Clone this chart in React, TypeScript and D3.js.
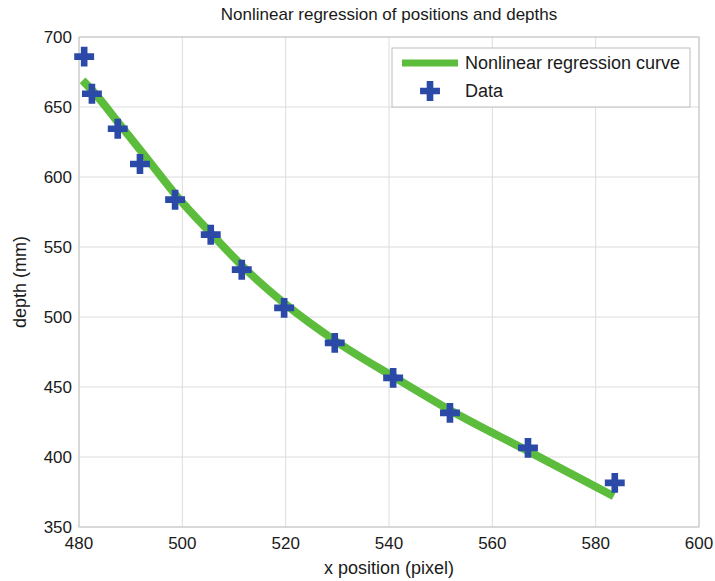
import { useRef, useEffect } from 'react';
import * as d3 from 'd3';

const WIDTH = 715;
const HEIGHT = 581;

// measured points
const dataX = [481, 482.5, 487.5, 491.8, 498.6, 505.5, 511.5, 519.7, 529.5, 540.8, 551.8, 566.9, 583.7];
const dataY = [686, 659.5, 634.5, 609.3, 583.8, 558.8, 533.8, 506.5, 481.5, 456.5, 431.5, 406.5, 381.5];

// regression curve
const curveX = [480.7, 483, 488, 493, 499, 506, 512, 520, 530, 541, 552, 567, 583.5];
const curveY = [669, 660, 637, 614, 586, 558, 535, 509, 482, 457, 433, 404, 372];

const xTicks = [480, 500, 520, 540, 560, 580, 600];
const yTicks = [350, 400, 450, 500, 550, 600, 650, 700];

const GREEN = '#5cbc3c';
const BLUE = '#2b4aa8';
const INK = '#1a1a1a';
const FONT = '"Liberation Sans", Arial, sans-serif';

const App = () => {
  const svgRef = useRef<SVGSVGElement>(null);

  useEffect(() => {
    const svg = d3.select(svgRef.current);
    svg.selectAll('*').remove();

    const margin = { top: 37, right: 16, bottom: 54, left: 79 };
    const width = WIDTH - margin.left - margin.right;
    const height = HEIGHT - margin.top - margin.bottom;

    const x = d3.scaleLinear().domain([480, 600]).range([0, width]);
    const y = d3.scaleLinear().domain([350, 700]).range([height, 0]);

    svg.append('rect').attr('width', WIDTH).attr('height', HEIGHT).attr('fill', '#fff');

    const g = svg.append('g').attr('transform', `translate(${margin.left},${margin.top})`);

    // grid
    g.append('g')
      .selectAll('line')
      .data(xTicks)
      .join('line')
      .attr('x1', d => x(d)).attr('x2', d => x(d))
      .attr('y1', 0).attr('y2', height)
      .attr('stroke', '#dcdcdc');
    g.append('g')
      .selectAll('line')
      .data(yTicks)
      .join('line')
      .attr('x1', 0).attr('x2', width)
      .attr('y1', d => y(d)).attr('y2', d => y(d))
      .attr('stroke', '#dcdcdc');

    g.append('rect')
      .attr('width', width).attr('height', height)
      .attr('fill', 'none').attr('stroke', '#c4c4c4');

    // tick labels
    g.append('g')
      .selectAll('text')
      .data(yTicks)
      .join('text')
      .attr('x', -7).attr('y', d => y(d)).attr('dy', '0.36em')
      .attr('text-anchor', 'end')
      .attr('font-family', FONT).attr('font-size', 17).attr('fill', INK)
      .text(d => d);
    g.append('g')
      .selectAll('text')
      .data(xTicks)
      .join('text')
      .attr('x', d => x(d)).attr('y', height + 22)
      .attr('text-anchor', 'middle')
      .attr('font-family', FONT).attr('font-size', 17).attr('fill', INK)
      .text(d => d);

    // curve
    const line = d3.line<number>()
      .x((d, i) => x(curveX[i]))
      .y(d => y(d))
      .curve(d3.curveMonotoneX);
    g.append('path')
      .datum(curveY)
      .attr('fill', 'none')
      .attr('stroke', GREEN)
      .attr('stroke-width', 8)
      .attr('stroke-linejoin', 'round')
      .attr('d', line);

    // markers
    const cross = d3.symbol().type(d3.symbolCross).size(220);
    g.append('g')
      .selectAll('path')
      .data(dataY)
      .join('path')
      .attr('transform', (d, i) => `translate(${x(dataX[i])},${y(d)})`)
      .attr('d', cross())
      .attr('fill', BLUE);

    // legend
    const lg = svg.append('g').attr('transform', 'translate(392,48)');
    lg.append('rect').attr('width', 298).attr('height', 59)
      .attr('fill', '#fff').attr('stroke', '#bdbdbd');
    lg.append('line').attr('x1', 10).attr('x2', 66).attr('y1', 15).attr('y2', 15)
      .attr('stroke', GREEN).attr('stroke-width', 7);
    lg.append('text').attr('x', 73).attr('y', 21)
      .attr('font-family', FONT).attr('font-size', 18).attr('fill', INK)
      .text('Nonlinear regression curve');
    lg.append('path').attr('transform', 'translate(38,43)').attr('d', cross()).attr('fill', BLUE);
    lg.append('text').attr('x', 73).attr('y', 49)
      .attr('font-family', FONT).attr('font-size', 18).attr('fill', INK)
      .text('Data');

    // titles
    svg.append('text')
      .attr('x', margin.left + width / 2).attr('y', 20)
      .attr('text-anchor', 'middle')
      .attr('font-family', FONT).attr('font-size', 17).attr('fill', INK)
      .text('Nonlinear regression of positions and depths');
    svg.append('text')
      .attr('x', margin.left + width / 2).attr('y', 574)
      .attr('text-anchor', 'middle')
      .attr('font-family', FONT).attr('font-size', 18).attr('fill', INK)
      .text('x position (pixel)');
    svg.append('text')
      .attr('transform', `translate(26,${margin.top + height / 2}) rotate(-90)`)
      .attr('text-anchor', 'middle')
      .attr('font-family', FONT).attr('font-size', 18).attr('fill', INK)
      .text('depth (mm)');
  }, []);

  return (
    <svg ref={svgRef} width={WIDTH} height={HEIGHT}
      style={{ position: 'absolute', left: 0, top: 0, display: 'block' }} />
  );
};

export default App;
